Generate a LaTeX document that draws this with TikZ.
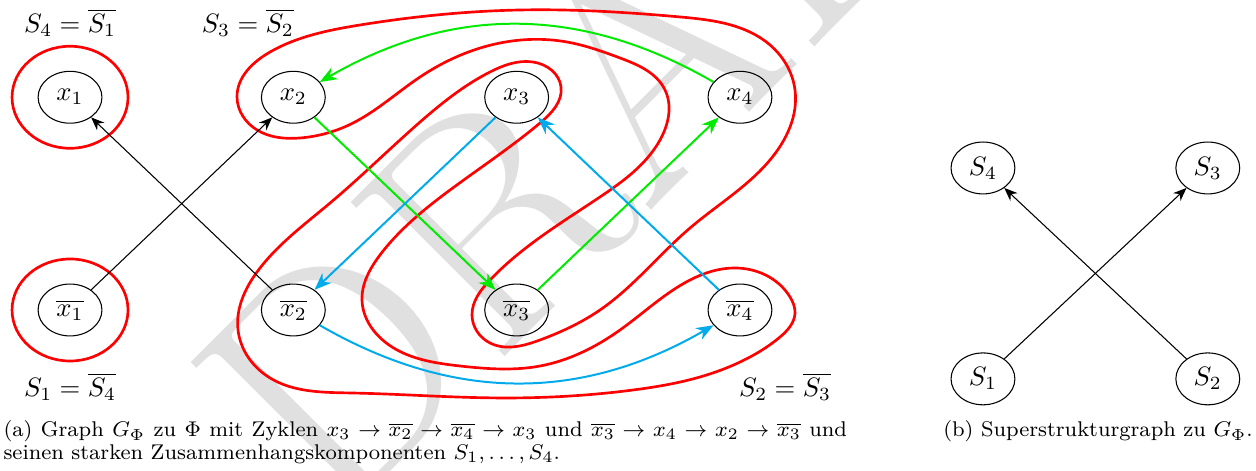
\documentclass[tikz,border=0pt]{standalone}
\usepackage{amsmath}
\usetikzlibrary{positioning,arrows.meta,shapes.geometric,hobby}
\definecolor{CycGreen}{RGB}{0,235,0}
\definecolor{CycBlue}{RGB}{0,170,235}

\begin{document}
\begin{tikzpicture}[
  lit/.style={draw=black, thin, ellipse, minimum width=24pt, minimum height=19.5pt, inner sep=1pt},
  imp/.style={-{Stealth[length=5pt, width=4pt]}, thin},
  cycg/.style={-{Stealth[length=6.5pt, width=5pt]}, line width=0.75pt, draw=CycGreen},
  cycb/.style={-{Stealth[length=6.5pt, width=5pt]}, line width=0.75pt, draw=CycBlue},
  scc/.style={draw=red, line width=1pt, use Hobby shortcut},
  captext/.style={anchor=base west, inner sep=0pt, font=\footnotesize}]
\useasboundingbox (-0.925,-2.127) rectangle (15.667,4.095);
% watermark
\begin{scope}
\clip (-0.925,-2.127) rectangle (15.667,4.095);
\node[rotate=45, text=black!12, font=\fontsize{120}{120}\selectfont] (wm) at (7.45,3.14) {DRAFT};
\end{scope}
% literals
\node[lit] (xb1) at (0,0)       {$\overline{x_1}$};
\node[lit] (xb2) at (2.95,0)    {$\overline{x_2}$};
\node[lit] (xb3) at (5.9,0)     {$\overline{x_3}$};
\node[lit] (xb4) at (8.85,0)    {$\overline{x_4}$};
\node[lit] (x1)  at (0,2.81)    {$x_1$};
\node[lit] (x2)  at (2.95,2.81) {$x_2$};
\node[lit] (x3)  at (5.9,2.81)  {$x_3$};
\node[lit] (x4)  at (8.85,2.81) {$x_4$};
% components
\draw[scc] (x1) ellipse [x radius=0.766, y radius=0.674];
\draw[scc] (xb1) ellipse [x radius=0.766, y radius=0.674];
\draw[scc, closed=true] (2.206,2.814) .. (2.642,3.408) .. (3.831,3.765) .. (5.945,3.963)
  .. (8.058,3.871) .. (9.247,3.501) .. (9.577,2.906) .. (9.247,1.982) .. (8.190,1.083)
  .. (7.001,0.000) .. (6.209,-0.396) .. (5.548,-0.436) .. (5.310,-0.066) .. (5.548,0.396)
  .. (7.001,1.493) .. (7.794,2.246) .. (7.860,2.906) .. (7.266,3.329) .. (6.565,3.540)
  .. (5.680,3.527) .. (4.624,3.078) .. (3.738,2.470) .. (3.038,2.272) .. (2.470,2.378);
\draw[scc, closed=true] (6.116,3.276) .. (6.486,2.946) .. (6.209,2.470) .. (5.020,1.585)
  .. (4.095,0.727) .. (3.857,0.132) .. (4.161,-0.423) .. (5.152,-0.740) .. (6.209,-0.740)
  .. (7.266,-0.264) .. (8.190,0.396) .. (8.785,0.555) .. (9.511,0.172) .. (9.577,-0.040)
  .. (9.379,-0.357) .. (8.983,-0.621) .. (8.322,-0.885) .. (7.437,-1.057) .. (5.680,-1.162)
  .. (3.699,-1.096) .. (2.642,-0.898) .. (2.219,-0.264) .. (2.510,0.555) .. (3.435,1.413)
  .. (4.624,2.483) .. (5.548,3.144);
% implications
\draw[imp] (xb1) -- (x2);
\draw[imp] (xb2) -- (x1);
\draw[cycg] (x2) -- (xb3);
\draw[cycg] (xb3) -- (x4);
\draw[cycg] (x4) to[bend right=30] (x2);
\draw[cycb] (x3) -- (xb2);
\draw[cycb] (xb2) to[bend right=30] (xb4);
\draw[cycb] (xb4) -- (x3);
% labels
\node (l4) at (0,3.79)        {$S_4 = \overline{S_1}$};
\node (l3) at (2.35,3.79)     {$S_3 = \overline{S_2}$};
\node (l1) at (0,-1.017)      {$S_1 = \overline{S_4}$};
\node (l2) at (9.445,-1.017)  {$S_2 = \overline{S_3}$};
% superstructure
\node[lit] (s1) at (12.06,-0.91) {$S_1$};
\node[lit] (s2) at (15.03,-0.91) {$S_2$};
\node[lit] (s3) at (15.03,1.876) {$S_3$};
\node[lit] (s4) at (12.06,1.876) {$S_4$};
\draw[imp] (s1) -- (s3);
\draw[imp] (s2) -- (s4);
% captions
\node[captext] (capa)  at (-0.885,-1.674) {\makebox[317pt][s]{(a) Graph $G_\Phi$ zu $\Phi$ mit Zyklen $x_3 \to \overline{x_2} \to \overline{x_4} \to x_3$ und $\overline{x_3} \to x_4 \to x_2 \to \overline{x_3}$ und}};
\node[captext] (capa2) at (-0.885,-1.98)  {seinen starken Zusammenhangskomponenten $S_1, \ldots, S_4$.};
\node[captext] (capb)  at (11.53,-1.674)  {(b) Superstrukturgraph zu $G_\Phi$.};
\end{tikzpicture}
\end{document}
